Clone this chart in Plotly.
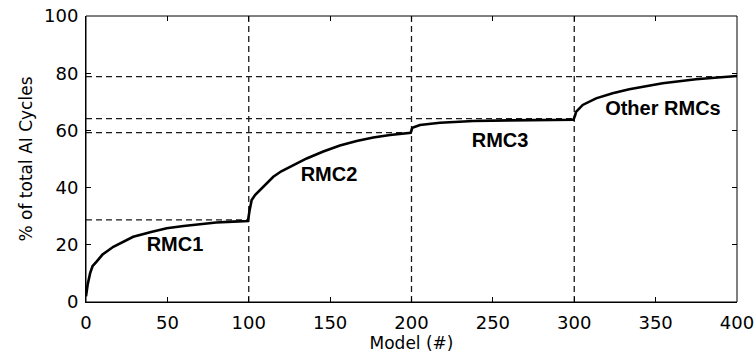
import plotly.graph_objects as go

# Cumulative share curve
model_x = [0, 1, 2.5, 4, 6.5, 10, 16.8, 22, 29, 40, 49.6, 60, 70, 80, 90.5, 99.5,
           100.5, 101.8, 104, 106.9, 110, 115.1, 120, 125.3, 135.6, 145.8, 156, 166.3, 176.5, 186.8, 199.5,
           200.5, 205.2, 217.5, 238, 260, 280, 299.5,
           300.5, 301.1, 305.2, 313.4, 323.6, 333.8, 354.3, 374.8, 400]
cycles_pct = [2, 6, 10, 12.5, 14.1, 16.5, 19.3, 20.8, 22.8, 24.5, 25.8, 26.6, 27.3, 27.8, 28.1, 28.3,
              32, 35.7, 37.5, 39.2, 41, 43.8, 45.7, 47.3, 50.2, 52.6, 54.7, 56.3, 57.5, 58.4, 59.2,
              60.9, 61.9, 62.7, 63.3, 63.5, 63.6, 63.7,
              65.2, 66.5, 68.9, 71.2, 73, 74.4, 76.5, 77.9, 79]

# Reference lines
h_levels = [28.7, 59.2, 64.1, 78.8]
h_ends = [100, 200, 300, 400]
v_positions = [100, 200, 300]

# Labels
label_text = ["RMC1", "RMC2", "RMC3", "Other RMCs"]
label_x = [54.7, 149.3, 254.4, 354.5]
label_y = [19.7, 44.2, 55.9, 67.1]

x_ticks = [0, 50, 100, 150, 200, 250, 300, 350, 400]
y_ticks = [0, 20, 40, 60, 80, 100]
x_range = [0, 400]
y_range = [0, 100]

fig = go.Figure()
dash_style = dict(color="#1a1a1a", width=1.3, dash="6px,4px")
for lvl, end in zip(h_levels, h_ends):
    fig.add_trace(go.Scatter(x=[0, end], y=[lvl, lvl], mode="lines", line=dash_style,
                             showlegend=False, hoverinfo="skip"))
for vx in v_positions:
    fig.add_trace(go.Scatter(x=[vx, vx], y=[0, 100], mode="lines", line=dash_style,
                             showlegend=False, hoverinfo="skip"))

fig.add_trace(go.Scatter(x=model_x, y=cycles_pct, mode="lines",
                         line=dict(color="black", width=2.6), showlegend=False))

fig.add_trace(go.Scatter(x=label_x, y=label_y, mode="text", text=label_text,
                         textfont=dict(family="Liberation Sans", size=20, color="black", weight="bold"),
                         showlegend=False, hoverinfo="skip"))

# invisible trace to activate the mirrored (top/right) tick axes
fig.add_trace(go.Scatter(x=x_range, y=y_range, xaxis="x2", yaxis="y2", mode="lines",
                         line=dict(width=0, color="rgba(0,0,0,0)"), showlegend=False,
                         hoverinfo="skip"))

axis_common = dict(showline=True, linecolor="black", linewidth=1,
                   ticks="inside", ticklen=5, tickcolor="black", tickwidth=1,
                   showgrid=False, zeroline=False, automargin=False,
                   tickfont=dict(family="DejaVu Sans", size=18, color="black"),
                   title_font=dict(family="DejaVu Sans", size=17, color="black"))

fig.update_xaxes(range=x_range, tickvals=x_ticks, title_text="Model (#)",
                 ticklabelstandoff=4, title_standoff=4, **axis_common)
fig.update_yaxes(range=y_range, tickvals=y_ticks, title_text="% of total AI Cycles",
                 ticklabelstandoff=3, title_standoff=7, **axis_common)

mirror_common = dict(ticks="inside", ticklen=5, tickcolor="black", tickwidth=1,
                     showticklabels=False, showline=False, showgrid=False,
                     zeroline=False, automargin=False)

# plot frame
fig.add_shape(type="rect", xref="x domain", yref="y domain", x0=0, x1=1, y0=0, y1=1,
              line=dict(color="black", width=1), layer="above")

fig.update_layout(width=756, height=358, margin=dict(l=86, r=19, t=16, b=56),
                  plot_bgcolor="white", paper_bgcolor="white",
                  xaxis2=dict(overlaying="x", side="top", anchor="y2", range=x_range,
                              tickvals=x_ticks, **mirror_common),
                  yaxis2=dict(overlaying="y", side="right", anchor="x2", range=y_range,
                              tickvals=y_ticks, **mirror_common))

fig.write_html("out.html", post_script="document.body.style.margin='0';",
               config={"displayModeBar": False})
